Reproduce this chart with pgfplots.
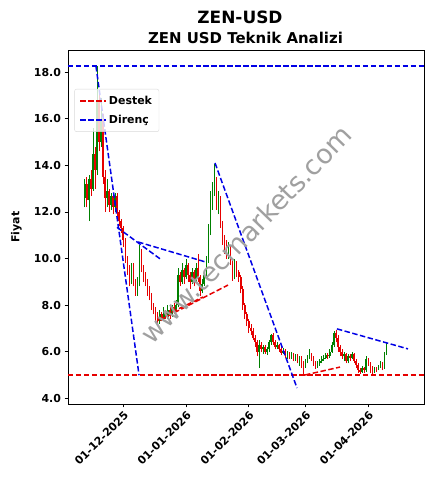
\documentclass[border=0pt]{standalone}
\usepackage{pgfplots}
\usepackage{pgfplotstable}
\pgfplotsset{compat=1.18}
\usepackage{fontspec}
\setmainfont{DejaVu Sans}
\definecolor{cgreen}{RGB}{0,128,0}
\definecolor{cred}{RGB}{230,0,0}
\definecolor{lblue}{RGB}{0,0,230}
\definecolor{lred}{RGB}{230,0,0}
\definecolor{wmark}{RGB}{160,160,160}

\pgfplotstableread{
d o h l c
-19 12.6 13.4 12.2 13.2
-17 12.5 13.6 11.6 13.4
-15 13.0 15.6 12.9 14.5
-13 13.8 18.25 13.6 16.8
-11 15.0 16.9 14.8 16.0
-8 12.6 13.4 12.2 12.9
-6 12.3 12.8 12.1 12.7
-4 12.2 12.8 12.0 12.7
4 9.0 9.8 8.9 9.5
7 8.6 9.2 8.4 8.9
8 8.9 10.6 8.8 10.3
18 7.3 7.8 7.2 7.6
20 7.4 7.9 7.3 7.7
22 7.5 8.0 7.4 7.8
24 7.6 8.0 7.5 7.9
26 7.8 8.2 7.7 8.0
27 8.0 9.6 7.9 9.3
29 9.0 9.8 8.9 9.5
31 9.2 10.0 9.1 9.7
34 9.0 9.6 8.9 9.4
36 9.1 9.8 9.0 9.6
39 8.6 9.1 8.5 8.9
40 8.9 9.5 8.8 9.3
41 9.3 10.1 9.2 9.9
42 9.9 11.5 9.8 11.2
43 11.2 12.9 11.0 12.4
44 12.4 13.3 12.1 12.9
45 12.9 14.05 12.7 13.4
47 12.3 12.9 11.9 12.6
52 10.2 10.7 10.0 10.5
55 9.2 10.0 9.1 9.8
67 6.0 6.5 5.3 6.3
69 6.1 6.3 5.9 6.2
71 6.0 6.2 5.85 6.1
72 6.1 6.5 6.0 6.4
73 6.4 6.75 6.3 6.7
76 6.2 6.4 6.1 6.3
79 5.95 6.15 5.9 6.05
81 5.85 6.05 5.7 5.95
83 5.8 6.0 5.7 5.9
85 5.7 5.9 5.6 5.85
87 5.6 5.8 5.4 5.7
90 5.4 5.7 5.3 5.6
91 5.6 5.85 5.5 5.8
92 5.8 6.1 5.7 5.9
96 5.35 5.6 5.3 5.5
97 5.5 5.7 5.4 5.6
98 5.6 5.8 5.5 5.7
99 5.7 5.85 5.6 5.75
100 5.75 5.95 5.7 5.85
102 5.8 6.1 5.75 6.0
103 6.0 6.4 5.95 6.3
104 6.3 6.9 6.2 6.8
109 5.8 6.0 5.6 5.9
111 5.6 5.9 5.5 5.8
113 5.75 6.0 5.7 5.9
118 5.15 5.4 5.1 5.3
120 5.2 5.8 5.15 5.7
124 5.2 5.35 5.1 5.3
126 5.25 5.45 5.2 5.35
127 5.35 5.6 5.3 5.5
129 5.3 6.0 5.25 5.9
130 5.9 6.4 5.85 6.35
}\upcandles

\pgfplotstableread{
d o h l c
-18 13.2 13.5 12.2 12.5
-16 13.4 13.8 12.7 13.0
-14 14.5 14.8 13.0 13.8
-12 16.8 17.0 14.6 15.0
-10 16.0 16.2 13.2 13.5
-9 13.5 13.8 12.0 12.6
-7 12.9 13.0 12.0 12.3
-5 12.7 12.8 11.9 12.2
-3 12.7 12.8 11.8 12.0
-2 12.0 12.1 11.4 11.6
-1 11.6 11.7 11.1 11.3
0 11.3 11.4 10.5 10.8
1 10.8 10.9 9.8 10.0
2 10.0 10.1 9.3 9.5
3 9.5 9.7 8.8 9.0
5 9.5 9.8 8.8 9.0
6 9.0 9.1 8.4 8.6
9 10.3 10.4 9.4 9.6
10 9.6 9.7 9.0 9.2
11 9.2 9.4 8.8 9.0
12 9.0 9.1 8.4 8.6
13 8.6 8.8 8.2 8.4
14 8.4 8.5 7.8 8.0
15 8.0 8.1 7.6 7.8
16 7.8 7.9 7.3 7.5
17 7.5 7.7 7.15 7.3
19 7.6 7.7 7.3 7.4
21 7.7 7.8 7.4 7.5
23 7.8 7.9 7.4 7.6
25 7.9 8.1 7.6 7.8
28 9.3 9.4 8.8 9.0
30 9.5 9.6 8.9 9.2
32 9.7 9.8 9.0 9.3
33 9.3 9.4 8.7 9.0
35 9.4 9.5 8.8 9.1
37 9.6 10.2 9.0 9.2
38 9.2 9.3 8.4 8.6
46 13.4 13.5 12.1 12.3
48 12.6 12.7 11.3 11.5
49 11.5 11.6 10.6 10.9
50 10.9 11.0 10.2 10.5
51 10.5 10.8 10.0 10.2
53 10.5 10.6 9.7 9.9
54 9.9 10.0 9.05 9.2
56 9.8 9.9 9.2 9.4
57 9.4 9.5 9.0 9.2
58 9.2 9.3 8.5 8.7
59 8.7 8.8 7.8 8.0
60 8.0 8.1 7.4 7.6
61 7.6 7.7 7.1 7.3
62 7.3 7.4 6.8 7.0
63 7.0 7.2 6.7 6.9
64 6.9 7.0 6.5 6.6
65 6.6 6.7 6.2 6.4
66 6.4 6.5 5.8 6.0
68 6.3 6.4 6.0 6.1
70 6.2 6.3 5.9 6.0
74 6.7 6.8 6.3 6.4
75 6.4 6.5 6.1 6.2
77 6.3 6.35 6.0 6.1
78 6.1 6.2 5.85 5.95
80 6.05 6.1 5.75 5.85
82 5.95 6.0 5.7 5.8
84 5.9 5.95 5.6 5.7
86 5.85 5.9 5.5 5.6
88 5.7 5.8 5.3 5.5
89 5.5 5.6 5.05 5.4
93 5.9 5.95 5.6 5.7
94 5.7 5.8 5.4 5.5
95 5.5 5.6 5.25 5.35
101 5.85 5.95 5.7 5.8
105 6.8 6.95 6.4 6.6
106 6.6 6.7 6.0 6.2
107 6.2 6.3 5.8 6.0
108 6.0 6.1 5.7 5.8
110 5.9 5.95 5.5 5.6
112 5.8 5.9 5.6 5.75
114 5.9 5.95 5.5 5.6
115 5.6 5.7 5.3 5.45
116 5.45 5.5 5.1 5.2
117 5.2 5.3 5.05 5.15
119 5.3 5.35 5.1 5.2
121 5.7 5.75 5.4 5.5
122 5.5 5.55 5.1 5.3
123 5.3 5.4 5.05 5.2
125 5.3 5.35 5.15 5.25
128 5.5 5.55 5.2 5.3
}\downcandles

\begin{document}
\begin{tikzpicture}
\path[use as bounding box] (-68bp,-85bp) rectangle (365bp,404bp);
\begin{axis}[
  at={(0,0)}, anchor=south west,
  width=356bp, height=354bp, scale only axis,
  xmin=-27.3, xmax=148.5, ymin=3.755, ymax=18.95,
  axis line style={line width=0.8pt},
  tick align=outside, major tick length=3.5pt,
  tick style={line width=0.8pt, black},
  xtick={0,31,62,90,121},
  xticklabels={01-12-2025,01-01-2026,01-02-2026,01-03-2026,01-04-2026},
  ytick={4,6,8,10,12,14,16,18},
  xtick pos=bottom, ytick pos=left,
  /pgf/number format/.cd, fixed, fixed zerofill, precision=1, assume math mode=true,
  /pgfplots/.cd,
  yticklabel style={font=\fontsize{11}{13}\selectfont\bfseries},
  xticklabel style={font=\fontsize{11}{13}\selectfont\bfseries, rotate=45, anchor=north east, inner sep=2pt},
  ylabel={Fiyat},
  every axis y label/.style={at={(axis description cs:-0.12,0.5)}, rotate=90, anchor=south, font=\fontsize{11}{13}\selectfont\bfseries},
  legend style={at={(axis description cs:0.018,0.89)}, anchor=north west,
    draw=black!15, rounded corners=2pt, fill=white, fill opacity=0.8, text opacity=1,
    font=\fontsize{11}{13}\selectfont\bfseries, row sep=5pt, inner xsep=5pt, inner ysep=5pt,
    /tikz/every even column/.append style={column sep=6pt}},
  legend cell align=left,
  legend image code/.code={\draw[#1] (0pt,0pt) -- (26pt,0pt);},
  clip=true,
]
% support / resistance horizontals (legend)
\addplot[lred, line width=1.5pt, dash pattern=on 5.5pt off 2.5pt] coordinates {(-27.3,4.99) (148.5,4.99)};
\addlegendentry{Destek}
\addplot[lblue, line width=1.5pt, dash pattern=on 5.5pt off 2.5pt] coordinates {(-27.3,18.26) (148.5,18.26)};
\addlegendentry{Direnç}

% candles: wicks (low to high)
\addplot[forget plot, cgreen, line width=0.7pt, quiver={u=0, v={\thisrow{h}-\thisrow{l}}}]
  table[x=d, y=l] {\upcandles};
\addplot[forget plot, cred, line width=0.7pt, quiver={u=0, v={\thisrow{h}-\thisrow{l}}}]
  table[x=d, y=l] {\downcandles};
% candles: bodies (open to close)
\addplot[forget plot, cgreen, line width=1.6pt, quiver={u=0, v={\thisrow{c}-\thisrow{o}}}]
  table[x=d, y=o] {\upcandles};
\addplot[forget plot, cred, line width=1.6pt, quiver={u=0, v={\thisrow{c}-\thisrow{o}}}]
  table[x=d, y=o] {\downcandles};

% trend lines
\addplot[forget plot, lblue, line width=1.5pt, dash pattern=on 5.5pt off 2.5pt] coordinates {(-13.5,18.26) (7.8,4.99)};
\addplot[forget plot, lblue, line width=1.5pt, dash pattern=on 5.5pt off 2.5pt] coordinates {(-3.1,11.34) (18.1,9.99)};
\addplot[forget plot, lblue, line width=1.5pt, dash pattern=on 5.5pt off 2.5pt] coordinates {(7.3,10.71) (40.3,9.86)};
\addplot[forget plot, lblue, line width=1.5pt, dash pattern=on 5.5pt off 2.5pt] coordinates {(45.3,14.1) (85.8,4.44)};
\addplot[forget plot, lblue, line width=1.5pt, dash pattern=on 5.5pt off 2.5pt] coordinates {(105.5,6.98) (140.6,6.12)};
\addplot[forget plot, lred, line width=1.5pt, dash pattern=on 5.5pt off 2.5pt] coordinates {(18.1,7.36) (51.7,8.86)};
\addplot[forget plot, lred, line width=1.5pt, dash pattern=on 5.5pt off 2.5pt] coordinates {(24.0,7.70) (39.4,8.35)};
\addplot[forget plot, lred, line width=1.5pt, dash pattern=on 5.5pt off 2.5pt] coordinates {(89.7,5.0) (107,5.34)};

\node[rotate=46, text=wmark, font=\fontsize{27}{27}\selectfont] at (axis cs:60.6,11.05) {www.tecmarkets.com};
\end{axis}
\node[anchor=base, font=\fontsize{17}{19}\selectfont\bfseries] at (172bp,380.7bp) {ZEN-USD};
\node[anchor=base, font=\fontsize{15}{17}\selectfont\bfseries] at (177.5bp,360.7bp) {ZEN USD Teknik Analizi};
\end{tikzpicture}
\end{document}
